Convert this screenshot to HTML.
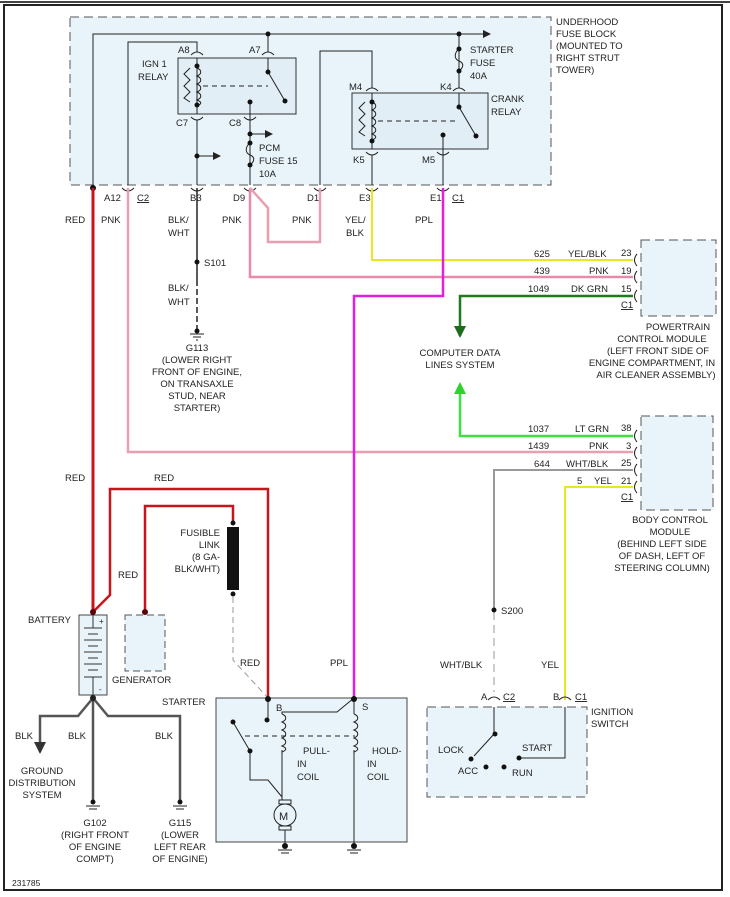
<!DOCTYPE html>
<html><head><meta charset="utf-8"><style>
html,body{margin:0;padding:0;background:#fff;}
svg{display:block;}
text{font-family:"Liberation Sans",sans-serif;font-size:9.5px;fill:#222;}
</style></head><body>
<svg width="730" height="897" viewBox="0 0 730 897" xmlns="http://www.w3.org/2000/svg">
<defs>
<marker id="ar" markerWidth="8" markerHeight="8" refX="7" refY="4" orient="auto" markerUnits="userSpaceOnUse"><path d="M0,0 L8,4 L0,8 z" fill="#222"/></marker>
<marker id="ag" markerWidth="12" markerHeight="12" refX="10" refY="6" orient="auto" markerUnits="userSpaceOnUse"><path d="M0,0 L12,6 L0,12 z" fill="#1d6b1d"/></marker>
<marker id="al" markerWidth="12" markerHeight="12" refX="10" refY="6" orient="auto" markerUnits="userSpaceOnUse"><path d="M0,0 L12,6 L0,12 z" fill="#30d030"/></marker>
<marker id="ab" markerWidth="12" markerHeight="12" refX="10" refY="6" orient="auto" markerUnits="userSpaceOnUse"><path d="M0,0 L12,6 L0,12 z" fill="#333"/></marker>
</defs>
<rect x="0" y="0" width="730" height="897" fill="#fff"/>
<rect x="4" y="5" width="718" height="885" fill="none" stroke="#222" stroke-width="2"/>
<line x1="0" y1="2" x2="730" y2="2" stroke="#444" stroke-width="2"/>

<!-- fuse block -->
<rect x="70" y="17" width="481" height="168" fill="#e9f4fa" stroke="#555" stroke-dasharray="9,5"/>
<g stroke="#222" fill="none" stroke-width="1">
<path d="M93,188 V34 H490" marker-end="url(#ar)"/>
<path d="M128,185 V42 H197 V52"/>
<path d="M268,34 V52"/>
<rect x="178" y="58" width="118" height="56" fill="#e2eef6" stroke="#333"/>
<path d="M197,58 V114"/>
<path d="M268,58 V72 L285,101"/>
<path d="M203,86 H268" stroke-dasharray="5,4"/>
<path d="M190,68 l-6,6 l6,6 l-6,6 l6,6 l-6,6 l6,4" />
<path d="M197,68 c5,2 5,6 0,8 c5,2 5,6 0,8 c5,2 5,6 0,8 c5,2 5,6 0,8 c5,2 5,4 0,6"/>
<path d="M197,120 V185"/>
<path d="M197,156 H220" marker-end="url(#ar)"/>
<path d="M250,102 V185"/>
<path d="M250,134 H272" marker-end="url(#ar)"/>
<path d="M250,143 c-5,4 -5,10 0,12 c5,2 5,6 0,10" />
<path d="M320,185 V51 H372 V88"/>
<path d="M459,34 V88"/>
<path d="M459,49 c-5,4 -5,10 0,12 c5,2 5,6 0,10"/>
<rect x="352" y="93" width="136" height="56" fill="#e2eef6" stroke="#333"/>
<path d="M372,93 V149"/>
<path d="M459,93 V107 L476,136"/>
<path d="M378,121 H459" stroke-dasharray="5,4"/>
<path d="M365,102 l-6,6 l6,6 l-6,6 l6,6 l-6,6 l6,4"/>
<path d="M372,102 c5,2 5,6 0,8 c5,2 5,6 0,8 c5,2 5,6 0,8 c5,2 5,6 0,8 c5,2 5,4 0,6"/>
<path d="M372,155 V185"/>
<path d="M443,135 V185"/>
</g>
<g fill="#111">
<circle cx="93" cy="188" r="3"/><circle cx="268" cy="34" r="2.5"/><circle cx="459" cy="34" r="2.5"/>
<circle cx="197" cy="66" r="2.5"/><circle cx="197" cy="105" r="2.5"/><circle cx="268" cy="72" r="2.5"/><circle cx="285" cy="101" r="2.5"/>
<circle cx="250" cy="102" r="2.5"/><circle cx="197" cy="156" r="2.5"/><circle cx="250" cy="134" r="2.5"/><circle cx="250" cy="143" r="2.5"/><circle cx="250" cy="165" r="2.5"/>
<circle cx="459" cy="49" r="2.5"/><circle cx="459" cy="71" r="2.5"/><circle cx="372" cy="102" r="2.5"/><circle cx="372" cy="141" r="2.5"/><circle cx="459" cy="107" r="2.5"/><circle cx="476" cy="136" r="2.5"/><circle cx="443" cy="135" r="2.5"/>
</g>
<!-- connector cups -->
<g stroke="#222" fill="none">
<path d="M191,55 q6,-6 12,0"/><path d="M262,55 q6,-6 12,0"/><path d="M366,91 q6,-6 12,0"/><path d="M453,91 q6,-6 12,0"/>
<path d="M191,117 q6,6 12,0"/><path d="M244,117 q6,6 12,0"/><path d="M366,152 q6,6 12,0"/><path d="M437,152 q6,6 12,0"/>
<path d="M122,188 q6,6 12,0"/><path d="M191,188 q6,6 12,0"/><path d="M244,188 q6,6 12,0"/><path d="M314,188 q6,6 12,0"/><path d="M366,188 q6,6 12,0"/><path d="M437,188 q6,6 12,0"/>
</g>
<text x="178" y="53">A8</text><text x="249" y="53">A7</text><text x="142" y="67">IGN 1</text><text x="138" y="80">RELAY</text>
<text x="176" y="126">C7</text><text x="229" y="126">C8</text><text x="259" y="151">PCM</text><text x="259" y="164">FUSE 15</text><text x="259" y="177">10A</text>
<text x="470" y="53">STARTER</text><text x="470" y="66">FUSE</text><text x="470" y="79">40A</text>
<text x="349" y="90">M4</text><text x="440" y="90">K4</text><text x="491" y="102">CRANK</text><text x="491" y="115">RELAY</text>
<text x="353" y="163">K5</text><text x="422" y="163">M5</text>
<text x="556" y="25">UNDERHOOD</text><text x="556" y="37">FUSE BLOCK</text><text x="556" y="49">(MOUNTED TO</text><text x="556" y="61">RIGHT STRUT</text><text x="556" y="73">TOWER)</text>
<text x="104" y="201">A12</text><text x="137" y="201" text-decoration="underline">C2</text><text x="190" y="201">B3</text><text x="233" y="201">D9</text><text x="307" y="201">D1</text><text x="359" y="201">E3</text><text x="430" y="201">E1</text><text x="452" y="201" text-decoration="underline">C1</text>
<text x="65" y="223">RED</text><text x="101" y="223">PNK</text><text x="168" y="223">BLK/</text><text x="168" y="236">WHT</text><text x="222" y="223">PNK</text><text x="292" y="223">PNK</text><text x="345" y="223">YEL/</text><text x="346" y="236">BLK</text><text x="415" y="223">PPL</text>

<!-- wires from fuse block -->
<g fill="none">
<path d="M93,188 V612" stroke="#c4161c" stroke-width="3"/>
<path d="M128,188 V452 H633" stroke="#e8a0b0" stroke-width="2.5"/>
<path d="M250,188 V277 H633" stroke="#e88aa8" stroke-width="2.5"/>
<path d="M250,188 L268,208 V242 H320 V188" stroke="#e8a0b0" stroke-width="2.5"/>
<path d="M372,188 V260 H633" stroke="#e8e820" stroke-width="2"/>
<path d="M443,188 V296 H354 V700" stroke="#e020e0" stroke-width="2.5"/>
<path d="M197,188 V280" stroke="#222" stroke-width="1.5"/>
<path d="M197,280 V330" stroke="#222" stroke-width="1.5" stroke-dasharray="6,3"/>
<path d="M633,296 H460 V336" stroke="#1d7a1d" stroke-width="2.5" marker-end="url(#ag)"/>
<path d="M633,436 H460 V384" stroke="#40e040" stroke-width="2.5" marker-end="url(#al)"/>
<path d="M633,470 H494 V612" stroke="#999" stroke-width="2"/>
<path d="M494,612 V692" stroke="#ccc" stroke-width="2" stroke-dasharray="8,5"/>
<path d="M633,487 H565 V700" stroke="#e8e820" stroke-width="2"/>
</g>
<circle cx="197" cy="262" r="2.5" fill="#111"/><text x="204" y="266">S101</text>
<text x="168" y="291">BLK/</text><text x="168" y="305">WHT</text>
<g stroke="#222"><line x1="190" y1="334" x2="204" y2="334"/><line x1="193" y1="337" x2="201" y2="337"/><line x1="196" y1="340" x2="198" y2="340"/></g>
<circle cx="197" cy="331" r="2.5" fill="#111"/>
<g text-anchor="middle"><text x="197" y="351">G113</text><text x="197" y="363">(LOWER RIGHT</text><text x="197" y="375">FRONT OF ENGINE,</text><text x="197" y="387">ON TRANSAXLE</text><text x="197" y="399">STUD, NEAR</text><text x="197" y="411">STARTER)</text>
<text x="460" y="356">COMPUTER DATA</text><text x="460" y="368">LINES SYSTEM</text></g>

<!-- PCM -->
<rect x="641" y="240" width="75" height="76" fill="#e9f4fa" stroke="#555" stroke-dasharray="9,5"/>
<g stroke="#222" fill="none"><path d="M637,254 q-5,6 0,12"/><path d="M637,271 q-5,6 0,12"/><path d="M637,290 q-5,6 0,12"/></g>
<text x="621" y="256">23</text><text x="621" y="274">19</text><text x="621" y="292">15</text><text x="621" y="308" text-decoration="underline">C1</text>
<text x="534" y="257">625</text><text x="568" y="257">YEL/BLK</text><text x="534" y="274">439</text><text x="589" y="274">PNK</text><text x="528" y="292">1049</text><text x="571" y="292">DK GRN</text>
<g text-anchor="middle"><text x="678" y="330">POWERTRAIN</text><text x="662" y="342">CONTROL MODULE</text><text x="658" y="354">(LEFT FRONT SIDE OF</text><text x="652" y="366">ENGINE COMPARTMENT, IN</text><text x="656" y="378">AIR CLEANER ASSEMBLY)</text></g>

<!-- BCM -->
<rect x="641" y="416" width="72" height="94" fill="#e9f4fa" stroke="#555" stroke-dasharray="9,5"/>
<g stroke="#222" fill="none"><path d="M637,430 q-5,6 0,12"/><path d="M637,447 q-5,6 0,12"/><path d="M637,464 q-5,6 0,12"/><path d="M637,481 q-5,6 0,12"/></g>
<text x="621" y="431">38</text><text x="626" y="449">3</text><text x="621" y="466">25</text><text x="621" y="484">21</text><text x="621" y="500" text-decoration="underline">C1</text>
<text x="528" y="432">1037</text><text x="575" y="432">LT GRN</text><text x="528" y="449">1439</text><text x="589" y="449">PNK</text><text x="534" y="467">644</text><text x="566" y="467">WHT/BLK</text><text x="577" y="484">5</text><text x="594" y="484">YEL</text>
<g text-anchor="middle"><text x="670" y="523">BODY CONTROL</text><text x="670" y="535">MODULE</text><text x="662" y="547">(BEHIND LEFT SIDE</text><text x="662" y="559">OF DASH, LEFT OF</text><text x="662" y="571">STEERING COLUMN)</text></g>

<!-- red wires lower -->
<g fill="none" stroke="#c4161c" stroke-width="2.5">
<path d="M93,612 L110,595 V489 H268 V698"/>
<path d="M145,612 V506 H233 V523"/>
</g>
<text x="65" y="481">RED</text><text x="154" y="481">RED</text><text x="118" y="578">RED</text><text x="240" y="666">RED</text>
<rect x="227" y="527" width="12" height="63" fill="#111"/>
<circle cx="233" cy="523" r="2.5" fill="#111"/><circle cx="233" cy="594" r="2.5" fill="#111"/>
<path d="M233,597 V660 L268,698" stroke="#999" fill="none" stroke-dasharray="6,4"/>
<g text-anchor="end"><text x="220" y="536">FUSIBLE</text><text x="220" y="548">LINK</text><text x="220" y="560">(8 GA-</text><text x="220" y="572">BLK/WHT)</text></g>

<!-- battery -->
<rect x="79" y="615" width="28" height="80" fill="#e9f4fa" stroke="#444"/>
<g stroke="#333"><line x1="93" y1="615" x2="93" y2="628"/><line x1="84" y1="628" x2="102" y2="628"/><line x1="88" y1="634" x2="98" y2="634"/><line x1="84" y1="640" x2="102" y2="640"/><line x1="88" y1="646" x2="98" y2="646"/><line x1="84" y1="652" x2="102" y2="652"/><line x1="88" y1="658" x2="98" y2="658"/><line x1="84" y1="664" x2="102" y2="664"/><line x1="88" y1="670" x2="98" y2="670"/><line x1="84" y1="677" x2="102" y2="677"/><line x1="93" y1="677" x2="93" y2="695"/></g>
<text x="99" y="624" style="font-size:8px">+</text><text x="99" y="692" style="font-size:8px">-</text>
<circle cx="93" cy="612" r="3" fill="#5a0008"/><circle cx="145" cy="612" r="3" fill="#5a0008"/>
<text x="28" y="623">BATTERY</text>
<rect x="125" y="615" width="40" height="56" fill="#e9f4fa" stroke="#555" stroke-dasharray="7,4"/>
<text x="112" y="683">GENERATOR</text>
<g fill="none" stroke="#555" stroke-width="2.5">
<path d="M93,698 L78,716 H40 V752" marker-end="url(#ab)"/>
<path d="M93,698 V800"/>
<path d="M93,698 L108,716 H180 V800"/>
</g>
<circle cx="93" cy="698" r="3" fill="#222"/>
<circle cx="93" cy="802" r="2.5" fill="#111"/><circle cx="180" cy="802" r="2.5" fill="#111"/>
<g stroke="#222"><line x1="86" y1="806" x2="100" y2="806"/><line x1="89" y1="809" x2="97" y2="809"/><line x1="173" y1="806" x2="187" y2="806"/><line x1="176" y1="809" x2="184" y2="809"/></g>
<text x="15" y="739">BLK</text><text x="68" y="739">BLK</text><text x="155" y="739">BLK</text>
<g text-anchor="middle"><text x="42" y="774">GROUND</text><text x="42" y="786">DISTRIBUTION</text><text x="42" y="798">SYSTEM</text>
<text x="95" y="826">G102</text><text x="95" y="838">(RIGHT FRONT</text><text x="95" y="850">OF ENGINE</text><text x="95" y="862">COMPT)</text>
<text x="180" y="826">G115</text><text x="180" y="838">(LOWER</text><text x="180" y="850">LEFT REAR</text><text x="180" y="862">OF ENGINE)</text></g>

<!-- starter -->
<text x="162" y="705">STARTER</text><text x="330" y="666">PPL</text>
<rect x="216" y="698" width="191" height="144" fill="#e9f4fa" stroke="#444"/>
<g stroke="#222" fill="none">
<path d="M268,698 V720"/>
<path d="M233,722 L250,751 V780 H268 L282,797"/>
<path d="M245,736 H355" stroke-dasharray="5,4"/>
<path d="M282,750 V800"/>
<path d="M282,714 c5,2 5,6 0,8 c5,2 5,6 0,8 c5,2 5,6 0,8 c5,2 5,6 0,8 c5,2 5,4 0,6"/>
<path d="M282,714 V712 H337 L354,698"/>
<path d="M354,698 V714"/>
<path d="M354,714 c5,2 5,6 0,8 c5,2 5,6 0,8 c5,2 5,6 0,8 c5,2 5,6 0,8 c5,2 5,4 0,6"/>
<path d="M354,750 V845"/>
<rect x="279" y="800" width="12" height="4"/><rect x="279" y="826" width="12" height="4"/>
<circle cx="285" cy="815" r="11" fill="#e9f4fa"/>
<path d="M285,830 V845"/>
</g>
<text x="279" y="820" style="font-size:11px">M</text>
<g fill="#111"><circle cx="268" cy="699" r="3"/><circle cx="354" cy="699" r="3"/><circle cx="267" cy="720" r="2.5"/><circle cx="233" cy="722" r="2.5"/><circle cx="250" cy="751" r="2.5"/><circle cx="285" cy="846" r="3"/><circle cx="354" cy="846" r="3"/></g>
<g stroke="#222"><line x1="278" y1="850" x2="292" y2="850"/><line x1="281" y1="853" x2="289" y2="853"/><line x1="347" y1="850" x2="361" y2="850"/><line x1="350" y1="853" x2="358" y2="853"/></g>
<text x="276" y="711">B</text><text x="362" y="710">S</text>
<text x="303" y="754">PULL-</text><text x="297" y="767">IN</text><text x="297" y="780">COIL</text>
<text x="372" y="754">HOLD-</text><text x="367" y="767">IN</text><text x="367" y="780">COIL</text>

<!-- ignition switch -->
<circle cx="494" cy="610" r="2.5" fill="#111"/><text x="501" y="614">S200</text>
<text x="440" y="668">WHT/BLK</text><text x="541" y="668">YEL</text>
<rect x="427" y="707" width="160" height="90" fill="#e9f4fa" stroke="#555" stroke-dasharray="9,5"/>
<g stroke="#222" fill="none">
<path d="M488,700 q6,-6 12,0"/><path d="M559,700 q6,-6 12,0"/>
<path d="M494,707 V734 L474,756"/>
<path d="M519,758 H565 V707"/>
</g>
<g fill="#111"><circle cx="495" cy="734" r="2.5"/><circle cx="471" cy="759" r="2.5"/><circle cx="486" cy="767" r="2.5"/><circle cx="504" cy="767" r="2.5"/><circle cx="519" cy="758" r="2.5"/></g>
<text x="481" y="700">A</text><text x="503" y="700" text-decoration="underline">C2</text><text x="553" y="700">B</text><text x="575" y="700" text-decoration="underline">C1</text>
<text x="591" y="715">IGNITION</text><text x="591" y="727">SWITCH</text>
<text x="438" y="753">LOCK</text><text x="458" y="774">ACC</text><text x="512" y="776">RUN</text><text x="522" y="751">START</text>
<text x="12" y="886" style="font-size:8.5px">231785</text>
</svg>
</body></html>
